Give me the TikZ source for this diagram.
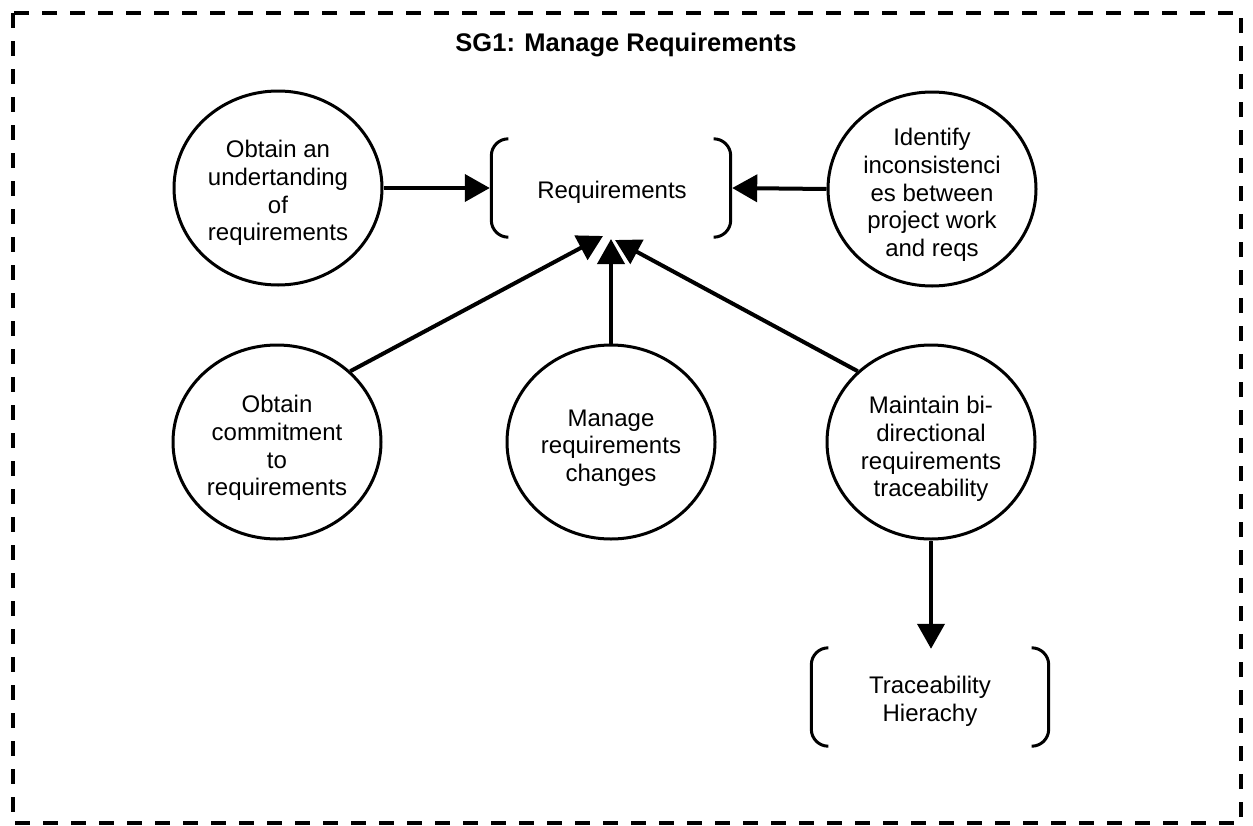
\documentclass[tikz,border=0pt]{standalone}
\usepackage{fontspec}
\setmainfont{Liberation Sans}
\usetikzlibrary{shapes.geometric,arrows.meta}

\begin{document}
\begin{tikzpicture}[x=1pt,y=-1pt,
  goal/.style={draw,ellipse,line width=3pt,minimum width=208pt,minimum height=194pt,inner sep=0pt},
  label text/.style={align=center,font=\fontsize{24}{27.7}\selectfont,inner sep=0pt},
  bracketed/.style={minimum width=#1,minimum height=98pt,inner sep=0pt},
  brace line/.style={line width=3pt,rounded corners=17pt},
  link/.style={line width=4pt,-{Triangle[length=25pt,width=27pt]}}
]
\useasboundingbox (0,0) rectangle (1253,825);

% outer dashed frame
\draw[line width=3.5pt,dash pattern=on 15pt off 13pt] (13,13) rectangle (1241,823);

\node[font=\bfseries\fontsize{25.5}{30}\selectfont] (title) at (626,45) {SG1: Manage Requirements};

% requirement goal circles
\node[goal] (obtain) at (278,188) {};
\node[goal] (identify) at (932,189) {};
\node[goal] (commit) at (277,442) {};
\node[goal] (manage) at (611,442) {};
\node[goal] (maintain) at (931,442) {};

\node[label text] (obtain-t) at (278,193) {Obtain an\\undertanding\\of\\requirements};
\node[label text] (identify-t) at (932,195) {Identify\\inconsistenci\\es between\\project work\\and reqs};
\node[label text] (commit-t) at (277,448) {Obtain\\commitment\\to\\requirements};
\node[label text] (manage-t) at (611,448) {Manage\\requirements\\changes};
\node[label text] (maintain-t) at (931,449) {Maintain bi-\\directional\\requirements\\traceability};

% bracketed work products
\node[bracketed=242pt] (req) at (611,188) {};
\node[label text] (req-t) at (612,192) {Requirements};
\draw[brace line] ([xshift=17pt]req.north west) -- ([xshift=1.5pt]req.north west) -- ([xshift=1.5pt]req.south west) -- ([xshift=17pt]req.south west);
\draw[brace line] ([xshift=-17pt]req.north east) -- ([xshift=-1.5pt]req.north east) -- ([xshift=-1.5pt]req.south east) -- ([xshift=-17pt]req.south east);

\node[bracketed=240pt] (trace) at (930,697) {};
\node[label text] (trace-t) at (930,701) {Traceability\\Hierachy};
\draw[brace line] ([xshift=17pt]trace.north west) -- ([xshift=1.5pt]trace.north west) -- ([xshift=1.5pt]trace.south west) -- ([xshift=17pt]trace.south west);
\draw[brace line] ([xshift=-17pt]trace.north east) -- ([xshift=-1.5pt]trace.north east) -- ([xshift=-1.5pt]trace.south east) -- ([xshift=-17pt]trace.south east);

% arrow tips below the requirements bracket
\coordinate (tipA) at (603,236);
\coordinate (tipB) at (611,239);
\coordinate (tipC) at (615,240);

\draw[link] (obtain.east) -- (req.west);
\draw[link] (identify.west) -- (req.east);
\draw[link] (commit.44) -- (tipA);
\draw[link] (manage.north) -- (tipB);
\draw[link] (maintain.136) -- (tipC);
\draw[link] (maintain.south) -- ([yshift=-1pt]trace.north -| maintain.south);
\end{tikzpicture}
\end{document}
